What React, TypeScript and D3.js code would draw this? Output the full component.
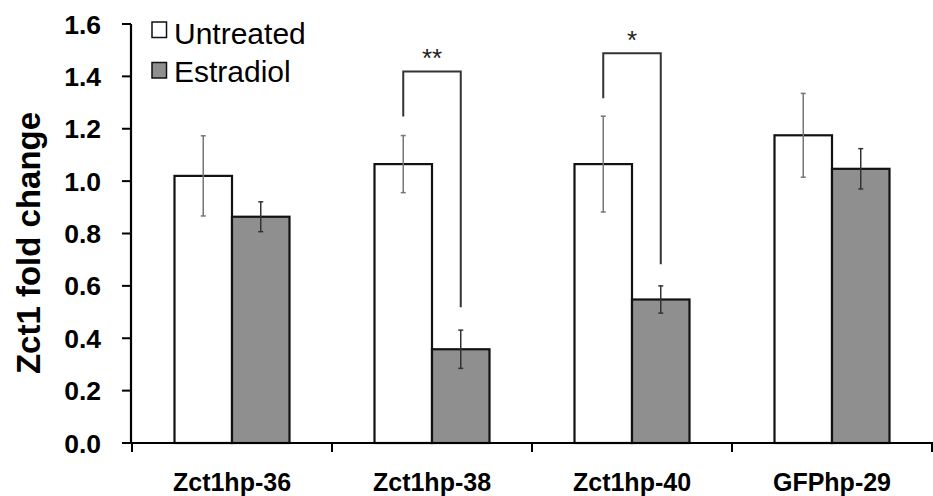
import React from "react";
import { useRef, useEffect } from "react";
import { select, scaleBand, scaleLinear, range } from "d3";

const categories = ["Zct1hp-36", "Zct1hp-38", "Zct1hp-40", "GFPhp-29"];
const series = ["Untreated", "Estradiol"];
const untreated = [1.02, 1.065, 1.065, 1.175];
const untreatedErr = [0.153, 0.109, 0.183, 0.16];
const estradiol = [0.864, 0.358, 0.548, 1.047];
const estradiolErr = [0.057, 0.073, 0.052, 0.077];
const yTicks = [0, 0.2, 0.4, 0.6, 0.8, 1.0, 1.2, 1.4, 1.6];

// significance brackets: category, left start, top, right end, label
const brackets = [
  { cat: "Zct1hp-38", left: 1.247, top: 1.419, right: 0.518, label: "**" },
  { cat: "Zct1hp-40", left: 1.316, top: 1.488, right: 0.683, label: "*" },
];

function App() {
  const chartRef = useRef(null);

  useEffect(() => {
    const svgWidth = 933;
    const svgHeight = 496;
    const font = "Arial, 'Liberation Sans', sans-serif";

    select(chartRef.current).selectAll("*").remove();
    const svg = select(chartRef.current)
      .append("svg")
      .attr("width", svgWidth)
      .attr("height", svgHeight)
      .style("display", "block");

    const yScale = scaleLinear().domain([0, 1.6]).range([443, 24]);
    const xScale = scaleBand().domain(categories).range([132, 932]);
    const x1 = scaleBand().domain(series).range([42.5, 157.5]);

    const values = [untreated, estradiol];
    const errs = [untreatedErr, estradiolErr];
    const fills = ["#ffffff", "#8f8f8f"];
    const errColors = ["#777777", "#333333"];

    // bars
    series.forEach((s, si) => {
      svg
        .append("g")
        .selectAll("rect")
        .data(categories)
        .enter()
        .append("rect")
        .attr("x", (c) => xScale(c) + x1(s))
        .attr("y", (c, i) => yScale(values[si][i]))
        .attr("width", x1.bandwidth())
        .attr("height", (c, i) => yScale(0) - yScale(values[si][i]))
        .attr("fill", fills[si])
        .attr("stroke", "#111")
        .attr("stroke-width", 2.2);
    });

    // error bars
    series.forEach((s, si) => {
      const g = svg.append("g").attr("stroke", errColors[si]).attr("stroke-width", 1.5);
      categories.forEach((c, i) => {
        const cx = xScale(c) + x1(s) + x1.bandwidth() / 2;
        const hi = yScale(values[si][i] + errs[si][i]);
        const lo = yScale(values[si][i] - errs[si][i]);
        g.append("line").attr("x1", cx).attr("x2", cx).attr("y1", hi).attr("y2", lo);
        g.append("line").attr("x1", cx - 2.5).attr("x2", cx + 2.5).attr("y1", hi).attr("y2", hi);
        g.append("line").attr("x1", cx - 2.5).attr("x2", cx + 2.5).attr("y1", lo).attr("y2", lo);
      });
    });

    // significance brackets
    brackets.forEach((b) => {
      const xl = xScale(b.cat) + x1("Untreated") + x1.bandwidth() / 2;
      const xr = xScale(b.cat) + x1("Estradiol") + x1.bandwidth() / 2;
      svg
        .append("path")
        .attr(
          "d",
          `M${xl},${yScale(b.left)}V${yScale(b.top)}H${xr}V${yScale(b.right)}`
        )
        .attr("fill", "none")
        .attr("stroke", "#333")
        .attr("stroke-width", 2);
      svg
        .append("text")
        .attr("x", (xl + xr) / 2)
        .attr("y", yScale(b.top) - 4)
        .attr("text-anchor", "middle")
        .attr("font-family", font)
        .attr("font-size", 26)
        .attr("fill", "#222")
        .text(b.label);
    });

    // y axis
    svg
      .append("line")
      .attr("x1", 131)
      .attr("x2", 131)
      .attr("y1", yScale(1.6))
      .attr("y2", yScale(0))
      .attr("stroke", "#000")
      .attr("stroke-width", 2.2);
    const yt = svg.append("g").selectAll("g").data(yTicks).enter().append("g");
    yt.append("line")
      .attr("x1", 122)
      .attr("x2", 131)
      .attr("y1", (d) => yScale(d))
      .attr("y2", (d) => yScale(d))
      .attr("stroke", "#000")
      .attr("stroke-width", 2);
    yt.append("text")
      .attr("x", 101)
      .attr("y", (d) => yScale(d) + 9.5)
      .attr("text-anchor", "end")
      .attr("font-family", font)
      .attr("font-weight", "bold")
      .attr("font-size", 26.5)
      .attr("fill", "#000")
      .text((d) => d.toFixed(1));

    // x axis
    svg
      .append("line")
      .attr("x1", 130)
      .attr("x2", 933)
      .attr("y1", yScale(0))
      .attr("y2", yScale(0))
      .attr("stroke", "#000")
      .attr("stroke-width", 2.2);
    const bounds = range(categories.length + 1).map((i) =>
      i < categories.length ? xScale(categories[i]) : xScale(categories[i - 1]) + xScale.bandwidth()
    );
    svg
      .append("g")
      .selectAll("line")
      .data(bounds)
      .enter()
      .append("line")
      .attr("x1", (d) => Math.min(d, 932))
      .attr("x2", (d) => Math.min(d, 932))
      .attr("y1", yScale(0))
      .attr("y2", yScale(0) + 9)
      .attr("stroke", "#000")
      .attr("stroke-width", 2);
    svg
      .append("g")
      .selectAll("text")
      .data(categories)
      .enter()
      .append("text")
      .attr("x", (c) => xScale(c) + xScale.bandwidth() / 2)
      .attr("y", 491)
      .attr("text-anchor", "middle")
      .attr("font-family", font)
      .attr("font-weight", "bold")
      .attr("font-size", 25)
      .attr("fill", "#000")
      .text((c) => c);

    // y label
    svg
      .append("text")
      .attr("transform", "translate(40,243) rotate(-90)")
      .attr("text-anchor", "middle")
      .attr("font-family", font)
      .attr("font-weight", "bold")
      .attr("font-size", 33)
      .attr("fill", "#000")
      .text("Zct1 fold change");

    // legend
    const lg = svg.append("g").selectAll("g").data(series).enter().append("g");
    lg.append("rect")
      .attr("x", 152)
      .attr("y", (d, i) => 22 + i * 40.5)
      .attr("width", 14.5)
      .attr("height", 15.5)
      .attr("fill", (d, i) => fills[i])
      .attr("stroke", "#111")
      .attr("stroke-width", 1.5);
    lg.append("text")
      .attr("x", 174)
      .attr("y", (d, i) => 43.5 + i * 38.5)
      .attr("font-family", font)
      .attr("font-size", 30)
      .attr("fill", "#000")
      .text((d) => d);
  }, []);

  return (
    <div style={{ position: "absolute", left: 0, top: 0 }} ref={chartRef}></div>
  );
}

export default App;
